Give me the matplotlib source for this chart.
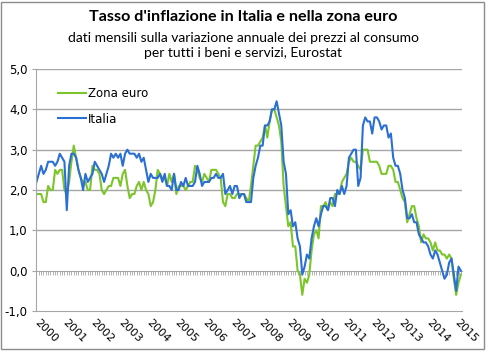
import matplotlib
matplotlib.use("Agg")
import matplotlib.pyplot as plt
import numpy as np
from matplotlib.patches import Rectangle
from matplotlib.ticker import FuncFormatter

# variazione annuale HICP, mensile, gen 2000 - mar 2015
zona_euro = [
    1.9, 1.9, 1.9, 1.7, 1.7, 2.1, 2.0, 2.0, 2.5, 2.4, 2.5, 2.5,  # 2000
    2.0, 1.9, 2.2, 2.7, 3.1, 2.8, 2.5, 2.3, 2.2, 2.2, 2.0, 2.0,  # 2001
    2.6, 2.5, 2.5, 2.4, 2.0, 1.9, 2.0, 2.1, 2.1, 2.3, 2.3, 2.3,  # 2002
    2.1, 2.4, 2.5, 2.1, 1.8, 1.9, 1.9, 2.1, 2.2, 2.0, 2.2, 2.0,  # 2003
    1.9, 1.6, 1.7, 2.0, 2.5, 2.4, 2.3, 2.3, 2.1, 2.4, 2.2, 2.4,  # 2004
    1.9, 2.1, 2.1, 2.1, 2.0, 2.1, 2.2, 2.2, 2.6, 2.5, 2.3, 2.2,  # 2005
    2.4, 2.3, 2.2, 2.5, 2.5, 2.5, 2.4, 2.3, 1.7, 1.6, 1.9, 1.9,  # 2006
    1.8, 1.8, 1.9, 1.9, 1.9, 1.9, 1.8, 1.7, 2.1, 2.6, 3.1, 3.1,  # 2007
    3.2, 3.3, 3.6, 3.3, 3.7, 4.0, 4.0, 3.8, 3.6, 3.2, 2.1, 1.6,  # 2008
    1.1, 1.2, 0.6, 0.6, 0.0, -0.1, -0.6, -0.2, -0.3, -0.1, 0.5, 0.9,  # 2009
    1.0, 0.8, 1.6, 1.6, 1.7, 1.5, 1.7, 1.6, 1.9, 1.9, 1.9, 2.2,  # 2010
    2.3, 2.4, 2.7, 2.8, 2.7, 2.7, 2.6, 2.5, 3.0, 3.0, 3.0, 2.7,  # 2011
    2.7, 2.7, 2.7, 2.6, 2.4, 2.4, 2.4, 2.6, 2.6, 2.5, 2.2, 2.2,  # 2012
    2.0, 1.8, 1.7, 1.2, 1.4, 1.6, 1.6, 1.3, 1.1, 0.7, 0.9, 0.8,  # 2013
    0.8, 0.7, 0.5, 0.7, 0.5, 0.5, 0.4, 0.4, 0.3, 0.4, 0.3, -0.2,  # 2014
    -0.6, -0.3, -0.1,  # 2015
]
italia = [
    2.2, 2.4, 2.6, 2.4, 2.5, 2.7, 2.7, 2.7, 2.6, 2.7, 2.9, 2.8,  # 2000
    2.7, 1.5, 2.6, 2.9, 2.9, 2.8, 2.5, 2.3, 2.0, 2.4, 2.2, 2.3,  # 2001
    2.4, 2.7, 2.6, 2.5, 2.4, 2.2, 2.4, 2.6, 2.9, 2.8, 2.9, 2.8,  # 2002
    2.9, 2.6, 2.9, 3.0, 2.9, 2.9, 2.9, 2.8, 2.9, 2.7, 2.8, 2.5,  # 2003
    2.2, 2.4, 2.3, 2.3, 2.3, 2.4, 2.2, 2.4, 2.1, 2.1, 2.0, 2.4,  # 2004
    2.0, 2.0, 2.2, 2.1, 2.3, 2.1, 2.1, 2.1, 2.2, 2.6, 2.4, 2.1,  # 2005
    2.2, 2.2, 2.2, 2.3, 2.3, 2.4, 2.3, 2.3, 2.4, 1.9, 2.0, 2.1,  # 2006
    1.9, 2.1, 2.1, 1.8, 1.9, 1.9, 1.7, 1.7, 1.7, 2.3, 2.6, 2.8,  # 2007
    3.1, 3.1, 3.6, 3.6, 3.7, 4.0, 4.0, 4.2, 3.9, 3.6, 2.7, 2.4,  # 2008
    1.4, 1.5, 1.1, 1.2, 0.8, 0.6, -0.1, 0.1, 0.4, 0.3, 0.8, 1.1,  # 2009
    1.3, 1.1, 1.4, 1.6, 1.6, 1.5, 1.8, 1.8, 1.6, 2.0, 1.9, 2.1,  # 2010
    1.9, 2.1, 2.8, 2.9, 3.0, 3.0, 2.1, 2.3, 3.6, 3.8, 3.7, 3.7,  # 2011
    3.4, 3.8, 3.8, 3.7, 3.5, 3.6, 3.6, 3.3, 3.4, 2.8, 2.6, 2.6,  # 2012
    2.4, 2.0, 1.8, 1.3, 1.3, 1.4, 1.2, 1.2, 0.9, 0.8, 0.7, 0.7,  # 2013
    0.6, 0.4, 0.3, 0.5, 0.4, 0.2, 0.0, -0.2, -0.1, 0.2, 0.3, -0.1,  # 2014
    -0.5, 0.1, 0.0,  # 2015
]
anni = [str(a) for a in range(2000, 2016)]

VERDE = "#7cc52b"
BLU = "#2a6fd4"
GRIGIO = "#a6a6a6"

plt.rcParams["font.family"] = ["DejaVu Sans"]

W, H = 486, 351
fig = plt.figure(figsize=(W / 100, H / 100), dpi=100)
ax = fig.add_axes([36 / W, 1 - 311 / H, 426 / W, 242 / H])

mesi = np.arange(len(italia))
ax.plot(mesi, zona_euro, color=VERDE, lw=1.5, label="Zona euro")
ax.plot(mesi, italia, color=BLU, lw=1.5, label="Italia")

ax.set_ylim(-1, 5)
ax.set_xlim(-0.2, 182.5)
ax.set_yticks(np.arange(-1, 6))
ax.yaxis.set_major_formatter(FuncFormatter(lambda v, _: f"{v:.1f}".replace(".", ",")))
ax.tick_params(axis="y", length=3, color=GRIGIO, labelsize=8.5, pad=3)

for y in range(1, 6):
    ax.axhline(y, color=GRIGIO, lw=1, zorder=0)

for s in ("top", "right"):
    ax.spines[s].set_visible(False)
ax.spines["left"].set_color(GRIGIO)
ax.spines["bottom"].set_color(GRIGIO)

# etichette degli anni in basso
ax.set_xticks(mesi[::12])
ax.set_xticklabels(anni, rotation=-45, ha="left", va="center",
                   rotation_mode="anchor", fontsize=8)
ax.tick_params(axis="x", length=0, pad=7)

# asse orizzontale sullo zero con le tacche mensili
zero = ax.secondary_xaxis(1 / 6)
zero.set_xticks(mesi)
zero.tick_params(length=3, width=0.6, color=GRIGIO, labelbottom=False, labeltop=False)
zero.spines["bottom"].set_color(GRIGIO)

ax.legend(loc="upper left", bbox_to_anchor=(0.052, 0.925), frameon=False,
          borderaxespad=0, borderpad=0, handlelength=2.4, handletextpad=0.1,
          labelspacing=1.05, fontsize=8.5)

fig.text(0.5, 1 - 17 / H, "Tasso d'inflazione in Italia e nella zona euro",
         ha="center", va="center", fontsize=11.6, fontweight="bold", family="Lato")
fig.text(0.5, 1 - 38 / H, "dati mensili sulla variazione annuale dei prezzi al consumo",
         ha="center", va="center", fontsize=10, family="Lato")
fig.text(0.5, 1 - 53 / H, "per tutti i beni e servizi, Eurostat",
         ha="center", va="center", fontsize=10, family="Lato")

fig.add_artist(Rectangle((1 / W, 2 / H), 1 - 3 / W, 1 - 4 / H, transform=fig.transFigure,
                         fill=False, ec="#8c8c8c", lw=1))

fig.savefig("out.png", dpi=100)
